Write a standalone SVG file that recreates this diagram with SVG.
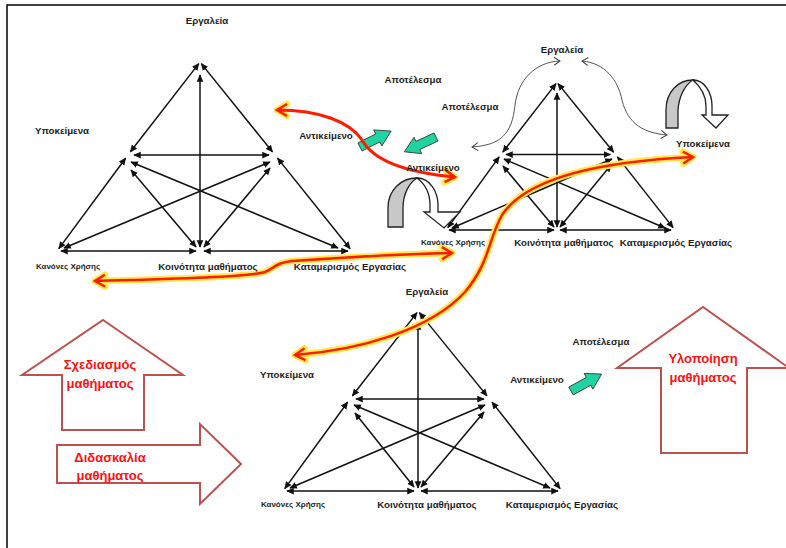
<svg xmlns="http://www.w3.org/2000/svg" width="786" height="548" viewBox="0 0 786 548">
<style>
.lbl{font-family:"Liberation Sans",Arial,sans-serif;font-weight:bold;font-size:9.7px;fill:#1e1e1e;text-anchor:middle}
.sm{font-size:8px}
.red{font-family:"Liberation Sans",Arial,sans-serif;font-weight:bold;font-size:13px;fill:#ff1010;text-anchor:middle}
.tl line{stroke:#111;stroke-width:1.5;marker-start:url(#ah);marker-end:url(#ah)}
.blk{fill:#fff;stroke:#c0504d;stroke-width:2}
.thin{fill:none;stroke:#555;stroke-width:1;marker-start:url(#gc);marker-end:url(#gc)}
.glow{fill:none;stroke:#ffe94a;stroke-width:6.5;stroke-linecap:round;marker-start:url(#cy);marker-end:url(#cy)}
.core{fill:none;stroke:#ff1a00;stroke-width:2.5;marker-start:url(#cr);marker-end:url(#cr)}
.teal{fill:#22d3a2;stroke:#333;stroke-width:0.8}
.ug{fill:#c8c8c8;stroke:#222;stroke-width:1.3}
.uw{fill:#fff;stroke:#222;stroke-width:1.3}
</style>
<defs>
<marker id="ah" viewBox="0 0 10 10" refX="9" refY="5" markerWidth="5" markerHeight="5" orient="auto-start-reverse"><path d="M0,0.5 L10,5 L0,9.5 z" fill="#111"/></marker>
<marker id="gc" markerUnits="userSpaceOnUse" viewBox="-10 -10 20 20" refX="0" refY="0" markerWidth="20" markerHeight="20" orient="auto-start-reverse"><path d="M-6,-4 L0,0 L-6,4" fill="none" stroke="#444" stroke-width="1"/></marker>
<marker id="cy" markerUnits="userSpaceOnUse" viewBox="-16 -12 24 24" refX="0" refY="0" markerWidth="24" markerHeight="24" orient="auto-start-reverse"><path d="M-10,-6 L0,0 L-10,6" fill="none" stroke="#ffe94a" stroke-width="6.5" stroke-linecap="round" stroke-linejoin="round"/></marker>
<marker id="cr" markerUnits="userSpaceOnUse" viewBox="-16 -12 24 24" refX="0" refY="0" markerWidth="24" markerHeight="24" orient="auto-start-reverse"><path d="M-10,-6 L0,0 L-10,6" fill="none" stroke="#ff1a00" stroke-width="2.5" stroke-linejoin="miter"/></marker>
<path id="tealArrow" d="M0,-4.5 L20,-4.5 L20,-9 L35,0 L20,9 L20,4.5 L0,4.5 Z"/>
</defs>
<rect width="786" height="548" fill="#fff"/>
<g id="frame" fill="none" stroke="#000" stroke-width="1.5">
<path d="M7,548 L7,5 L786,5"/>
</g>

<g id="block-arrows">
<polygon id="sxediasmos-arrow" class="blk" points="103,320 183,375 144,375 144,430 62,430 62,375 22,375"/>
<polygon id="didaskalia-arrow" class="blk" points="57,445 200,445 200,424 241,464 200,504 200,483 57,483"/>
<polygon id="ylopoiisi-arrow" class="blk" points="703,307 789,368 747,368 747,453 661,453 661,368 617,368"/>
</g>

<g id="connectors">
<g class="tl" id="triangle-top-left">
<line x1="198.8" y1="63.6" x2="130.4" y2="151.8"/>
<line x1="201.3" y1="63.6" x2="272.5" y2="151.9"/>
<line x1="125.6" y1="158.2" x2="58.8" y2="248.6"/>
<line x1="277.5" y1="158.1" x2="350.1" y2="248.7"/>
<line x1="134" y1="155" x2="269" y2="155"/>
<line x1="131" y1="162" x2="338" y2="248"/>
<line x1="270" y1="162" x2="64" y2="248"/>
<line x1="131" y1="170" x2="196" y2="247"/>
<line x1="270" y1="168" x2="204" y2="247"/>
<line x1="61" y1="251" x2="196" y2="251"/>
<line x1="204" y1="251" x2="348" y2="251"/>
<line x1="200" y1="247" x2="200" y2="75"/>
</g>
<g class="tl" id="triangle-top-right">
<line x1="556" y1="83.6" x2="502.8" y2="152.1"/>
<line x1="558" y1="83.6" x2="613.6" y2="152.2"/>
<line x1="499.2" y1="156.9" x2="447.8" y2="227.6"/>
<line x1="617.4" y1="156.9" x2="673.1" y2="227.6"/>
<line x1="506" y1="154.5" x2="610.5" y2="154.5"/>
<line x1="504" y1="159" x2="665" y2="228"/>
<line x1="612" y1="159" x2="452" y2="228"/>
<line x1="503" y1="166" x2="554" y2="227"/>
<line x1="611" y1="165" x2="560" y2="227"/>
<line x1="449" y1="230" x2="554" y2="230"/>
<line x1="560" y1="230" x2="671" y2="230"/>
<line x1="557" y1="227" x2="557" y2="93"/>
</g>
<g class="tl" id="triangle-bottom">
<line x1="417" y1="312.6" x2="352.4" y2="395.8"/>
<line x1="419.3" y1="312.6" x2="487" y2="395.9"/>
<line x1="347.6" y1="402.2" x2="284.8" y2="488.6"/>
<line x1="492" y1="402.1" x2="560.1" y2="488.6"/>
<line x1="356" y1="399" x2="484" y2="399"/>
<line x1="354" y1="405" x2="550" y2="488"/>
<line x1="485" y1="405" x2="290" y2="488"/>
<line x1="355" y1="413" x2="414" y2="487"/>
<line x1="484" y1="412" x2="421" y2="487"/>
<line x1="287" y1="491" x2="414" y2="491"/>
<line x1="421" y1="491" x2="558" y2="491"/>
<line x1="418" y1="488" x2="418" y2="323"/>
</g>

<path class="thin" d="M560,61 C535,62 518,80 515,105 C512,135 500,145 472,147"/>
<path class="thin" d="M582,61 C605,63 618,80 622,100 C628,125 645,133 667,135"/>

<g id="u-arrow-left">
<path class="ug" d="M388,227 L388,208 C388,190 401,178 417,178 C409,183 403,194 403,208 L403,227 Z"/>
<path class="uw" d="M417,178 C430,178 438,192 438,205 L438,212 L460,212 L444,228 L424,212 L430,212 L430,205 C430,194 425,184 417,178 Z"/>
</g>
<g id="u-arrow-right">
<path class="ug" d="M666,128 L666,110 C666,92 678,80 693,80 C686,84 679,95 678,110 L678,128 Z"/>
<path class="uw" d="M693,80 C704,80 712,92 712,106 L712,115 L728,115 L716,128 L702,115 L706,115 L706,106 C706,96 701,87 693,80 Z"/>
</g>

<g id="teal-arrows" class="teal">
<use href="#tealArrow" transform="translate(360,147) rotate(-27)"/>
<use href="#tealArrow" transform="translate(436,137) rotate(155)"/>
<use href="#tealArrow" transform="translate(571,391) rotate(-29)"/>
</g>

<path d="M277,110 C320,110 350,122 362,140 C372,158 400,172 455,177" fill="none" stroke="none" marker-start="url(#cy)" marker-end="url(#cy)"/>
<path d="M277,110 C320,110 350,122 362,140 C372,158 400,172 455,177" fill="none" stroke="#ff1a00" stroke-width="3" marker-start="url(#cr)" marker-end="url(#cr)"/>

<path class="glow" d="M95,281 C170,279 250,277 265,272 C275,268 275,263 292,261 C350,257 400,254 452,253"/>
<path class="core" d="M95,281 C170,279 250,277 265,272 C275,268 275,263 292,261 C350,257 400,254 452,253"/>

<path class="glow" d="M295,355 C360,350 430,330 465,292 C490,262 488,240 502,215 C525,180 590,162 693,157"/>
<path class="core" d="M295,355 C360,350 430,330 465,292 C490,262 488,240 502,215 C525,180 590,162 693,157"/>
</g>

<g id="n-tl-tools"><text class="lbl" x="207" y="23.5">Εργαλεία</text></g>
<g id="n-tl-subjects"><text class="lbl" x="62" y="133.5">Υποκείμενα</text></g>
<g id="n-tl-object"><text class="lbl" x="326" y="138.5">Αντικείμενο</text></g>
<g id="n-tl-rules"><text class="lbl sm" x="68" y="269">Κανόνες Χρήσης</text></g>
<g id="n-tl-community"><text class="lbl" x="208" y="269.5">Κοινότητα μαθήματος</text></g>
<g id="n-tl-division"><text class="lbl" x="350" y="269.5">Καταμερισμός Εργασίας</text></g>

<g id="n-tr-tools"><text class="lbl" x="562" y="52.5">Εργαλεία</text></g>
<g id="n-tr-outcome1"><text class="lbl" x="413" y="83">Αποτέλεσμα</text></g>
<g id="n-tr-outcome2"><text class="lbl" x="470" y="109.5">Αποτέλεσμα</text></g>
<g id="n-tr-object"><text class="lbl" x="433" y="170.5">Αντικείμενο</text></g>
<g id="n-tr-subjects"><text class="lbl" x="703" y="146.5">Υποκείμενα</text></g>
<g id="n-tr-rules"><text class="lbl sm" x="453" y="245">Κανόνες Χρήσης</text></g>
<g id="n-tr-community"><text class="lbl" x="564" y="245.5">Κοινότητα μαθήματος</text></g>
<g id="n-tr-division"><text class="lbl" x="676" y="245.5">Καταμερισμός Εργασίας</text></g>

<g id="n-b-tools"><text class="lbl" x="427" y="294.5">Εργαλεία</text></g>
<g id="n-b-subjects"><text class="lbl" x="287" y="377.5">Υποκείμενα</text></g>
<g id="n-b-object"><text class="lbl" x="537" y="382.5">Αντικείμενο</text></g>
<g id="n-b-outcome"><text class="lbl" x="601" y="344.5">Αποτέλεσμα</text></g>
<g id="n-b-rules"><text class="lbl sm" x="293" y="507">Κανόνες Χρήσης</text></g>
<g id="n-b-community"><text class="lbl" x="427" y="507.5">Κοινότητα μαθήματος</text></g>
<g id="n-b-division"><text class="lbl" x="562" y="507.5">Καταμερισμός Εργασίας</text></g>

<g id="n-sxediasmos"><text class="red" x="100" y="368.5">Σχεδιασμός</text><text class="red" x="100" y="387.5">μαθήματος</text></g>
<g id="n-didaskalia"><text class="red" x="110" y="461.5">Διδασκαλία</text><text class="red" x="110" y="479.5">μαθήματος</text></g>
<g id="n-ylopoiisi"><text class="red" x="703" y="363">Υλοποίηση</text><text class="red" x="703" y="382">μαθήματος</text></g>
</svg>
